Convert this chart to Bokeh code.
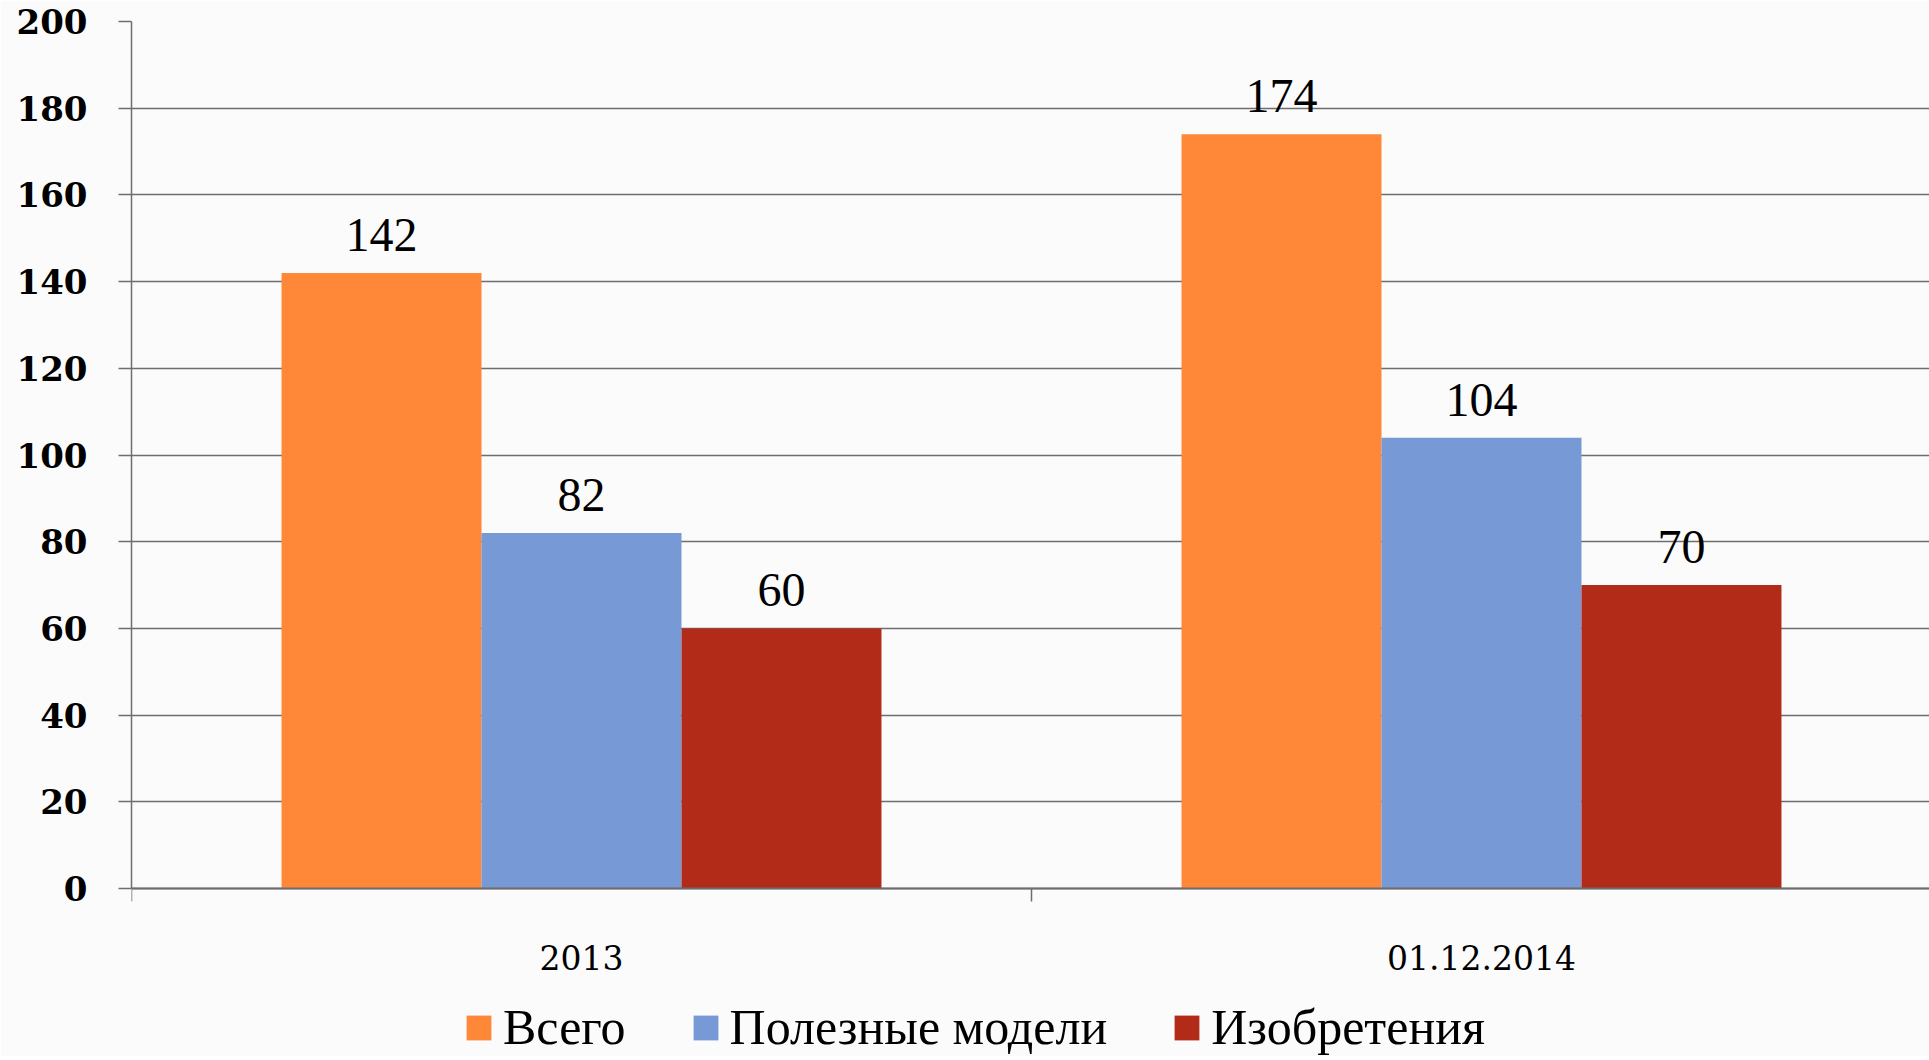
from bokeh.plotting import figure
from bokeh.models import (ColumnDataSource, Range1d, FixedTicker, Legend, LegendItem, LabelSet)
from bokeh.embed import file_html
from bokeh.resources import INLINE

categories = ["2013", "01.12.2014"]
series_names = ["Всего", "Полезные модели", "Изобретения"]
vsego = [142, 174]
poleznye = [82, 104]
izobreteniya = [60, 70]
y_ticks = [0, 20, 40, 60, 80, 100, 120, 140, 160, 180, 200]

colors = ["#FE8838", "#7799D6", "#B12B18"]
series = [vsego, poleznye, izobreteniya]
bar_w = 0.2222
offsets = [-bar_w, 0.0, bar_w]

W, H = 1929, 1056
LEFT, TOP, ZERO_Y = 131, 21, 888
px_per_unit = (ZERO_Y - TOP) / 200.0
y_min = -(H - ZERO_Y) / px_per_unit

p = figure(width=W, height=H, output_backend="svg", toolbar_location=None,
           x_range=Range1d(0, (W - LEFT) / 900.0), y_range=Range1d(y_min, 200),
           min_border_left=LEFT, min_border_right=0, min_border_top=TOP, min_border_bottom=0)
p.background_fill_color = "#FBFBFB"
p.border_fill_color = "#FBFBFB"
p.outline_line_color = None

centers = [i + 0.5 for i in range(len(categories))]
renderers = []
for vals, col, off in zip(series, colors, offsets):
    src = ColumnDataSource(dict(x=[c + off for c in centers], top=vals,
                                lbl=[str(v) for v in vals]))
    r = p.vbar(x="x", top="top", bottom=0, width=bar_w, source=src,
               fill_color=col, line_color=None)
    renderers.append(r)
    p.add_layout(LabelSet(x="x", y="top", text="lbl", source=src, y_offset=22,
                          text_align="center", text_baseline="alphabetic",
                          text_font="Liberation Serif", text_font_size="48px",
                          text_color="#000000"))

grid_col = "#6E6E6E"
# y axis
p.yaxis.ticker = FixedTicker(ticks=y_ticks)
p.yaxis.bounds = (0, 200)
p.yaxis.axis_line_color = grid_col
p.yaxis.axis_line_width = 1.5
p.yaxis.major_tick_line_color = grid_col
p.yaxis.major_tick_line_width = 1.5
p.yaxis.major_tick_out = 13
p.yaxis.major_tick_in = 0
p.yaxis.minor_tick_line_color = None
p.yaxis.major_label_standoff = 31
p.yaxis.major_label_text_font = "DejaVu Serif"
p.yaxis.major_label_text_font_style = "bold"
p.yaxis.major_label_text_font_size = "34px"
p.yaxis.major_label_text_color = "#000000"

# x axis at value 0: labels at category centres, ticks at category boundaries
p.xaxis.fixed_location = 0
p.xaxis.ticker = FixedTicker(ticks=centers, minor_ticks=[0, 1, 2])
p.xaxis.major_label_overrides = {c: lab for c, lab in zip(centers, categories)}
p.xaxis.axis_line_color = grid_col
p.xaxis.axis_line_width = 2
p.xaxis.major_tick_line_color = None
p.xaxis.major_tick_out = 0
p.xaxis.major_tick_in = 0
p.xaxis.minor_tick_line_color = grid_col
p.xaxis.minor_tick_line_width = 1.5
p.xaxis.minor_tick_out = 13
p.xaxis.minor_tick_in = 0
p.xaxis.major_label_standoff = 43
p.xaxis.major_label_text_font = "DejaVu Serif"
p.xaxis.major_label_text_font_size = "33px"
p.xaxis.major_label_text_color = "#000000"

p.xgrid.visible = False
p.ygrid.ticker = FixedTicker(ticks=y_ticks)
p.ygrid.grid_line_color = grid_col
p.ygrid.grid_line_width = 1.5

legend = Legend(items=[LegendItem(label=n, renderers=[r]) for n, r in zip(series_names, renderers)],
                orientation="horizontal", location=(332, 0),
                glyph_width=31, glyph_height=31, label_standoff=9, spacing=64,
                padding=0, margin=0, border_line_color=None, background_fill_alpha=0,
                label_text_font="Liberation Serif", label_text_font_size="50px",
                label_text_color="#000000")
p.add_layout(legend, "center")

open("out.html", "w").write(file_html(p, INLINE))
